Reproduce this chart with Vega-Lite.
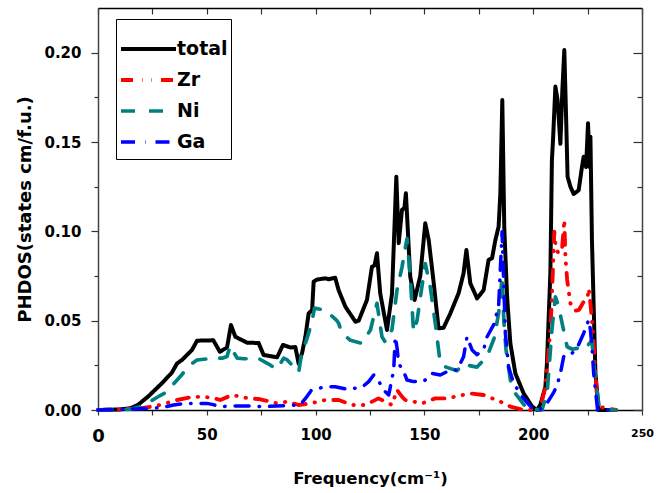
{
  "$schema": "https://vega.github.io/schema/vega-lite/v6.json",
  "width": 544,
  "height": 402,
  "autosize": {"type": "none"},
  "padding": {"left": 98, "top": 8, "right": 27, "bottom": 83},
  "background": "white",
  "config": {
    "view": {"stroke": null},
    "axis": {
      "labelFont": "DejaVu Sans", "titleFont": "DejaVu Sans",
      "labelFontWeight": "bold", "titleFontWeight": "bold",
      "labelColor": "black", "titleColor": "black",
      "grid": false, "tickColor": "#333", "domainColor": "#444", "domainWidth": 1.5, "tickWidth": 1.2
    },
    "legend": {"clipHeight": 28, "rowPadding": 3}
  },
  "data": {"values": [
    {"f":0,"v":0,"s":"total"},{"f":10,"v":0.0003,"s":"total"},{"f":15,"v":0.001,"s":"total"},{"f":18.5,"v":0.003,"s":"total"},{"f":23,"v":0.0075,"s":"total"},{"f":29.4,"v":0.015,"s":"total"},{"f":34,"v":0.021,"s":"total"},{"f":36.3,"v":0.026,"s":"total"},{"f":38.6,"v":0.028,"s":"total"},{"f":43.2,"v":0.0336,"s":"total"},{"f":45.5,"v":0.0388,"s":"total"},{"f":53,"v":0.039,"s":"total"},{"f":56,"v":0.0326,"s":"total"},{"f":59.3,"v":0.035,"s":"total"},{"f":61.1,"v":0.0476,"s":"total"},{"f":63.1,"v":0.041,"s":"total"},{"f":68.5,"v":0.0377,"s":"total"},{"f":73.8,"v":0.0375,"s":"total"},{"f":76.1,"v":0.0308,"s":"total"},{"f":82.3,"v":0.0295,"s":"total"},{"f":85,"v":0.0364,"s":"total"},{"f":88.4,"v":0.035,"s":"total"},{"f":90.7,"v":0.0352,"s":"total"},{"f":92.2,"v":0.026,"s":"total"},{"f":93.8,"v":0.032,"s":"total"},{"f":95.3,"v":0.041,"s":"total"},{"f":96.8,"v":0.054,"s":"total"},{"f":98.4,"v":0.056,"s":"total"},{"f":99.1,"v":0.0718,"s":"total"},{"f":100.6,"v":0.073,"s":"total"},{"f":104.5,"v":0.0737,"s":"total"},{"f":106,"v":0.0732,"s":"total"},{"f":109,"v":0.074,"s":"total"},{"f":110.6,"v":0.067,"s":"total"},{"f":113.7,"v":0.0578,"s":"total"},{"f":118.3,"v":0.0494,"s":"total"},{"f":119.8,"v":0.05,"s":"total"},{"f":123.6,"v":0.0616,"s":"total"},{"f":125.9,"v":0.0802,"s":"total"},{"f":127.1,"v":0.081,"s":"total"},{"f":128.2,"v":0.0877,"s":"total"},{"f":129.7,"v":0.0653,"s":"total"},{"f":132.8,"v":0.0448,"s":"total"},{"f":135.1,"v":0.065,"s":"total"},{"f":137.1,"v":0.1306,"s":"total"},{"f":138.2,"v":0.0934,"s":"total"},{"f":139.7,"v":0.112,"s":"total"},{"f":140.8,"v":0.113,"s":"total"},{"f":141.5,"v":0.1213,"s":"total"},{"f":143.5,"v":0.0746,"s":"total"},{"f":145.5,"v":0.0616,"s":"total"},{"f":148.1,"v":0.075,"s":"total"},{"f":150.4,"v":0.1045,"s":"total"},{"f":152,"v":0.095,"s":"total"},{"f":154.3,"v":0.0709,"s":"total"},{"f":156.5,"v":0.0457,"s":"total"},{"f":158.8,"v":0.046,"s":"total"},{"f":161.9,"v":0.054,"s":"total"},{"f":165.7,"v":0.0653,"s":"total"},{"f":168,"v":0.0765,"s":"total"},{"f":169.3,"v":0.0896,"s":"total"},{"f":171.1,"v":0.0709,"s":"total"},{"f":174.2,"v":0.0625,"s":"total"},{"f":177.2,"v":0.067,"s":"total"},{"f":179.5,"v":0.084,"s":"total"},{"f":181.1,"v":0.085,"s":"total"},{"f":182.6,"v":0.095,"s":"total"},{"f":184.1,"v":0.1026,"s":"total"},{"f":184.9,"v":0.121,"s":"total"},{"f":185.8,"v":0.1735,"s":"total"},{"f":186.7,"v":0.1026,"s":"total"},{"f":188,"v":0.0634,"s":"total"},{"f":189.5,"v":0.0373,"s":"total"},{"f":191.8,"v":0.0205,"s":"total"},{"f":195.6,"v":0.0093,"s":"total"},{"f":199.5,"v":0.0019,"s":"total"},{"f":201.8,"v":0,"s":"total"},{"f":203.3,"v":0.003,"s":"total"},{"f":205.6,"v":0.013,"s":"total"},{"f":206.3,"v":0.026,"s":"total"},{"f":207.9,"v":0.077,"s":"total"},{"f":208.6,"v":0.14,"s":"total"},{"f":209.1,"v":0.151,"s":"total"},{"f":210.2,"v":0.181,"s":"total"},{"f":211.2,"v":0.1735,"s":"total"},{"f":212.5,"v":0.149,"s":"total"},{"f":213.4,"v":0.179,"s":"total"},{"f":214.3,"v":0.2015,"s":"total"},{"f":215.2,"v":0.16,"s":"total"},{"f":215.8,"v":0.1306,"s":"total"},{"f":217.1,"v":0.125,"s":"total"},{"f":218.6,"v":0.1209,"s":"total"},{"f":220.9,"v":0.123,"s":"total"},{"f":222.4,"v":0.136,"s":"total"},{"f":223.2,"v":0.1418,"s":"total"},{"f":224.3,"v":0.136,"s":"total"},{"f":225.2,"v":0.1605,"s":"total"},{"f":226,"v":0.136,"s":"total"},{"f":226.3,"v":0.153,"s":"total"},{"f":227,"v":0.095,"s":"total"},{"f":228.6,"v":0.0205,"s":"total"},{"f":230.1,"v":0,"s":"total"},{"f":238,"v":0,"s":"total"},

    {"f":0,"v":0,"s":"Zr"},{"f":10,"v":0.0003,"s":"Zr"},{"f":15,"v":0.0008,"s":"Zr"},{"f":20,"v":0.001,"s":"Zr"},{"f":28.6,"v":0.0028,"s":"Zr"},{"f":36.3,"v":0.0056,"s":"Zr"},{"f":43,"v":0.0072,"s":"Zr"},{"f":48,"v":0.0075,"s":"Zr"},{"f":53,"v":0.0067,"s":"Zr"},{"f":56.2,"v":0.0056,"s":"Zr"},{"f":61.6,"v":0.0084,"s":"Zr"},{"f":68.5,"v":0.0067,"s":"Zr"},{"f":74.6,"v":0.006,"s":"Zr"},{"f":78,"v":0.005,"s":"Zr"},{"f":82.3,"v":0.0037,"s":"Zr"},{"f":86.9,"v":0.0047,"s":"Zr"},{"f":92.2,"v":0.0028,"s":"Zr"},{"f":97.6,"v":0.0037,"s":"Zr"},{"f":104.5,"v":0.0056,"s":"Zr"},{"f":110.6,"v":0.0056,"s":"Zr"},{"f":116.7,"v":0.0028,"s":"Zr"},{"f":122.9,"v":0.0028,"s":"Zr"},{"f":128.9,"v":0.0065,"s":"Zr"},{"f":135.1,"v":0.0028,"s":"Zr"},{"f":137.4,"v":0.0112,"s":"Zr"},{"f":139.7,"v":0.0075,"s":"Zr"},{"f":141.2,"v":0.0056,"s":"Zr"},{"f":148.9,"v":0.0037,"s":"Zr"},{"f":155,"v":0.0065,"s":"Zr"},{"f":160.4,"v":0.0065,"s":"Zr"},{"f":166,"v":0.008,"s":"Zr"},{"f":171.1,"v":0.0093,"s":"Zr"},{"f":177.2,"v":0.0084,"s":"Zr"},{"f":184.9,"v":0.0047,"s":"Zr"},{"f":189.5,"v":0.0019,"s":"Zr"},{"f":195.6,"v":0,"s":"Zr"},{"f":203,"v":0,"s":"Zr"},{"f":205.6,"v":0.013,"s":"Zr"},{"f":207.9,"v":0.045,"s":"Zr"},{"f":208.5,"v":0.06,"s":"Zr"},{"f":209.7,"v":0.0998,"s":"Zr"},{"f":210.5,"v":0.09,"s":"Zr"},{"f":211.7,"v":0.0877,"s":"Zr"},{"f":213.3,"v":0.091,"s":"Zr"},{"f":214.3,"v":0.1064,"s":"Zr"},{"f":214.8,"v":0.0858,"s":"Zr"},{"f":215.6,"v":0.0728,"s":"Zr"},{"f":217.1,"v":0.0597,"s":"Zr"},{"f":219.4,"v":0.0556,"s":"Zr"},{"f":221,"v":0.056,"s":"Zr"},{"f":223.2,"v":0.0606,"s":"Zr"},{"f":225,"v":0.063,"s":"Zr"},{"f":225.5,"v":0.068,"s":"Zr"},{"f":226.3,"v":0.0597,"s":"Zr"},{"f":227.5,"v":0.043,"s":"Zr"},{"f":228.6,"v":0.0205,"s":"Zr"},{"f":229.6,"v":0.002,"s":"Zr"},{"f":238,"v":0,"s":"Zr"},

    {"f":0,"v":0,"s":"Ni"},{"f":15,"v":0.0005,"s":"Ni"},{"f":18.6,"v":0.0015,"s":"Ni"},{"f":23,"v":0.004,"s":"Ni"},{"f":27,"v":0.007,"s":"Ni"},{"f":31.7,"v":0.0102,"s":"Ni"},{"f":35,"v":0.015,"s":"Ni"},{"f":37.8,"v":0.0187,"s":"Ni"},{"f":42,"v":0.025,"s":"Ni"},{"f":45.5,"v":0.028,"s":"Ni"},{"f":52.9,"v":0.029,"s":"Ni"},{"f":57,"v":0.029,"s":"Ni"},{"f":59.3,"v":0.03,"s":"Ni"},{"f":60.8,"v":0.036,"s":"Ni"},{"f":62,"v":0.033,"s":"Ni"},{"f":64,"v":0.029,"s":"Ni"},{"f":67,"v":0.0287,"s":"Ni"},{"f":74,"v":0.0287,"s":"Ni"},{"f":78,"v":0.026,"s":"Ni"},{"f":82.3,"v":0.0228,"s":"Ni"},{"f":85.3,"v":0.029,"s":"Ni"},{"f":87,"v":0.028,"s":"Ni"},{"f":90,"v":0.024,"s":"Ni"},{"f":92.2,"v":0.021,"s":"Ni"},{"f":93.8,"v":0.0336,"s":"Ni"},{"f":95.5,"v":0.038,"s":"Ni"},{"f":96.8,"v":0.043,"s":"Ni"},{"f":98.4,"v":0.05,"s":"Ni"},{"f":99.5,"v":0.057,"s":"Ni"},{"f":103.7,"v":0.056,"s":"Ni"},{"f":104.5,"v":0.056,"s":"Ni"},{"f":109.8,"v":0.05,"s":"Ni"},{"f":110.6,"v":0.0485,"s":"Ni"},{"f":112.1,"v":0.043,"s":"Ni"},{"f":116,"v":0.039,"s":"Ni"},{"f":121.3,"v":0.0373,"s":"Ni"},{"f":125.2,"v":0.0448,"s":"Ni"},{"f":128.2,"v":0.0597,"s":"Ni"},{"f":130.5,"v":0.041,"s":"Ni"},{"f":132,"v":0.038,"s":"Ni"},{"f":135.1,"v":0.045,"s":"Ni"},{"f":137.4,"v":0.067,"s":"Ni"},{"f":139.7,"v":0.08,"s":"Ni"},{"f":142,"v":0.096,"s":"Ni"},{"f":143.5,"v":0.075,"s":"Ni"},{"f":145,"v":0.0438,"s":"Ni"},{"f":146.6,"v":0.05,"s":"Ni"},{"f":150.4,"v":0.082,"s":"Ni"},{"f":152.7,"v":0.069,"s":"Ni"},{"f":155,"v":0.0485,"s":"Ni"},{"f":157.3,"v":0.026,"s":"Ni"},{"f":160,"v":0.024,"s":"Ni"},{"f":165,"v":0.022,"s":"Ni"},{"f":168,"v":0.026,"s":"Ni"},{"f":170,"v":0.025,"s":"Ni"},{"f":174.2,"v":0.024,"s":"Ni"},{"f":178.8,"v":0.03,"s":"Ni"},{"f":182,"v":0.04,"s":"Ni"},{"f":184.1,"v":0.054,"s":"Ni"},{"f":185.8,"v":0.075,"s":"Ni"},{"f":186.5,"v":0.05,"s":"Ni"},{"f":187.5,"v":0.034,"s":"Ni"},{"f":189.5,"v":0.0168,"s":"Ni"},{"f":191.8,"v":0.0093,"s":"Ni"},{"f":197,"v":0.001,"s":"Ni"},{"f":204,"v":0,"s":"Ni"},{"f":206.4,"v":0.0093,"s":"Ni"},{"f":208.6,"v":0.0448,"s":"Ni"},{"f":210.2,"v":0.0634,"s":"Ni"},{"f":211.7,"v":0.0578,"s":"Ni"},{"f":213.3,"v":0.0485,"s":"Ni"},{"f":215.6,"v":0.0354,"s":"Ni"},{"f":218,"v":0.034,"s":"Ni"},{"f":220.1,"v":0.0345,"s":"Ni"},{"f":223.2,"v":0.0336,"s":"Ni"},{"f":225,"v":0.036,"s":"Ni"},{"f":227,"v":0.039,"s":"Ni"},{"f":227.8,"v":0.026,"s":"Ni"},{"f":229.3,"v":0.011,"s":"Ni"},{"f":230.5,"v":0,"s":"Ni"},{"f":238,"v":0,"s":"Ni"},

    {"f":0,"v":0,"s":"Ga"},{"f":15,"v":0.0005,"s":"Ga"},{"f":25,"v":0.001,"s":"Ga"},{"f":30,"v":0.0015,"s":"Ga"},{"f":34.7,"v":0.0028,"s":"Ga"},{"f":40,"v":0.0037,"s":"Ga"},{"f":50,"v":0.0037,"s":"Ga"},{"f":53,"v":0.003,"s":"Ga"},{"f":55.4,"v":0.0019,"s":"Ga"},{"f":62,"v":0.0022,"s":"Ga"},{"f":71,"v":0.0022,"s":"Ga"},{"f":76.1,"v":0.0019,"s":"Ga"},{"f":82,"v":0.0022,"s":"Ga"},{"f":91.5,"v":0.0028,"s":"Ga"},{"f":93,"v":0.003,"s":"Ga"},{"f":96,"v":0.0075,"s":"Ga"},{"f":98,"v":0.011,"s":"Ga"},{"f":100.6,"v":0.012,"s":"Ga"},{"f":105,"v":0.013,"s":"Ga"},{"f":109,"v":0.013,"s":"Ga"},{"f":114.4,"v":0.0116,"s":"Ga"},{"f":121.3,"v":0.0127,"s":"Ga"},{"f":124.4,"v":0.0159,"s":"Ga"},{"f":126.7,"v":0.0196,"s":"Ga"},{"f":129,"v":0.016,"s":"Ga"},{"f":132,"v":0.0103,"s":"Ga"},{"f":133.6,"v":0.0084,"s":"Ga"},{"f":135.9,"v":0.0224,"s":"Ga"},{"f":136.6,"v":0.041,"s":"Ga"},{"f":137.4,"v":0.035,"s":"Ga"},{"f":138.2,"v":0.026,"s":"Ga"},{"f":140.5,"v":0.0214,"s":"Ga"},{"f":142,"v":0.0168,"s":"Ga"},{"f":145,"v":0.0159,"s":"Ga"},{"f":149.6,"v":0.0159,"s":"Ga"},{"f":153.5,"v":0.0205,"s":"Ga"},{"f":157.3,"v":0.0196,"s":"Ga"},{"f":162,"v":0.0224,"s":"Ga"},{"f":165,"v":0.0224,"s":"Ga"},{"f":168,"v":0.0298,"s":"Ga"},{"f":169.6,"v":0.041,"s":"Ga"},{"f":171.9,"v":0.0336,"s":"Ga"},{"f":174.2,"v":0.031,"s":"Ga"},{"f":177.2,"v":0.0336,"s":"Ga"},{"f":178.8,"v":0.041,"s":"Ga"},{"f":181.8,"v":0.0476,"s":"Ga"},{"f":184.1,"v":0.0578,"s":"Ga"},{"f":185.7,"v":0.0998,"s":"Ga"},{"f":186.4,"v":0.0728,"s":"Ga"},{"f":187.2,"v":0.043,"s":"Ga"},{"f":188.7,"v":0.024,"s":"Ga"},{"f":191,"v":0.015,"s":"Ga"},{"f":194.9,"v":0.0075,"s":"Ga"},{"f":199.5,"v":0.001,"s":"Ga"},{"f":203,"v":0,"s":"Ga"},{"f":206.3,"v":0.0037,"s":"Ga"},{"f":209.5,"v":0.01,"s":"Ga"},{"f":211,"v":0.014,"s":"Ga"},{"f":212.5,"v":0.0205,"s":"Ga"},{"f":214,"v":0.0298,"s":"Ga"},{"f":215.6,"v":0.0317,"s":"Ga"},{"f":217.8,"v":0.0317,"s":"Ga"},{"f":220.1,"v":0.0345,"s":"Ga"},{"f":223.2,"v":0.043,"s":"Ga"},{"f":225.5,"v":0.0504,"s":"Ga"},{"f":226.3,"v":0.0448,"s":"Ga"},{"f":227,"v":0.0354,"s":"Ga"},{"f":227.8,"v":0.0205,"s":"Ga"},{"f":229.6,"v":0,"s":"Ga"},{"f":238,"v":0,"s":"Ga"}
  ]},
  "layer": [
    {
      "mark": {"type": "line", "strokeCap": "round", "strokeJoin": "round"},
      "encoding": {
        "x": {"field": "f", "type": "quantitative",
          "scale": {"domain": [0, 250], "nice": false, "zero": false},
          "axis": {"orient": "bottom", "values": [0,25,50,75,100,125,150,175,200,225,250],
            "tickSize": 5, "labelExpr": "datum.value % 50 == 0 ? datum.label : ''",
            "labelFontSize": {"condition": [{"test": "datum.value == 0", "value": 18}, {"test": "datum.value == 250", "value": 11}], "value": 15},
            "labelPadding": 12, "labelFlush": false, "labelOverlap": false, "domainColor": "black",
            "title": "Frequency(cm⁻¹)", "titleFontSize": 16.5, "titleY": 73, "titleBaseline": "alphabetic"}},
        "y": {"field": "v", "type": "quantitative",
          "scale": {"domain": [0, 0.225], "nice": false},
          "axis": {"orient": "left", "values": [0,0.025,0.05,0.075,0.1,0.125,0.15,0.175,0.2],
            "tickSize": {"condition": {"test": "round(datum.value*1000) % 50 == 0", "value": 7}, "value": 4},
            "labelExpr": "round(datum.value*1000) % 50 == 0 ? format(datum.value, '.2f') : ''",
            "labelFontSize": 15, "labelPadding": 10, "labelOverlap": false,
            "title": "PHDOS(states cm/f.u.)", "titleFontSize": 18, "titleX": -68, "titleY": 201, "titleBaseline": "alphabetic", "titleAngle": -90}},
        "color": {"field": "s", "type": "nominal",
          "scale": {"domain": ["total", "Zr", "Ni", "Ga"], "range": ["#000000", "#ff0000", "#008080", "#0000ff"]},
          "legend": {"title": " ", "titleFontSize": 10, "titlePadding": 3, "orient": "none", "legendX": 18, "legendY": 11, "symbolType": "stroke", "symbolSize": 3025, "symbolStrokeWidth": 4, "labelFont": "DejaVu Sans", "labelFontWeight": "bold", "labelFontSize": 19, "labelColor": "black", "labelOffset": -1, "strokeColor": "black", "fillColor": "white", "padding": 3, "rowPadding": 3, "clipHeight": 28}},
        "strokeDash": {"field": "s", "type": "nominal",
          "scale": {"domain": ["total", "Zr", "Ni", "Ga"], "range": [[1, 0], [12, 9, 0.5, 9, 0.5, 9], [14, 14], [14, 10, 0.5, 10]]},
          "legend": {"title": " ", "titleFontSize": 10, "titlePadding": 3, "orient": "none", "legendX": 18, "legendY": 11, "symbolType": "stroke", "symbolSize": 3025, "symbolStrokeWidth": 4, "labelFont": "DejaVu Sans", "labelFontWeight": "bold", "labelFontSize": 19, "labelColor": "black", "labelOffset": -1, "strokeColor": "black", "fillColor": "white", "padding": 3, "rowPadding": 3, "clipHeight": 28}},
        "strokeWidth": {"field": "s", "type": "nominal",
          "scale": {"domain": ["total", "Zr", "Ni", "Ga"], "range": [4, 3.5, 3.5, 3.5]}, "legend": null}
      }
    },
    {
      "mark": {"type": "point", "opacity": 0},
      "encoding": {
        "x": {"field": "f", "type": "quantitative",
          "scale": {"domain": [0, 250], "nice": false, "zero": false},
          "axis": {"orient": "top", "values": [0,25,50,75,100,125,150,175,200,225,250], "tickSize": -6, "labels": false, "title": null, "domainColor": "black"}},
        "y": {"field": "v", "type": "quantitative",
          "scale": {"domain": [0, 0.225], "nice": false},
          "axis": {"orient": "right", "values": [0,0.025,0.05,0.075,0.1,0.125,0.15,0.175,0.2],
            "tickSize": {"condition": {"test": "round(datum.value*1000) % 50 == 0", "value": -9}, "value": -5},
            "labels": false, "title": null}}
      }
    }
  ],
  "resolve": {"axis": {"x": "independent", "y": "independent"}}
}
